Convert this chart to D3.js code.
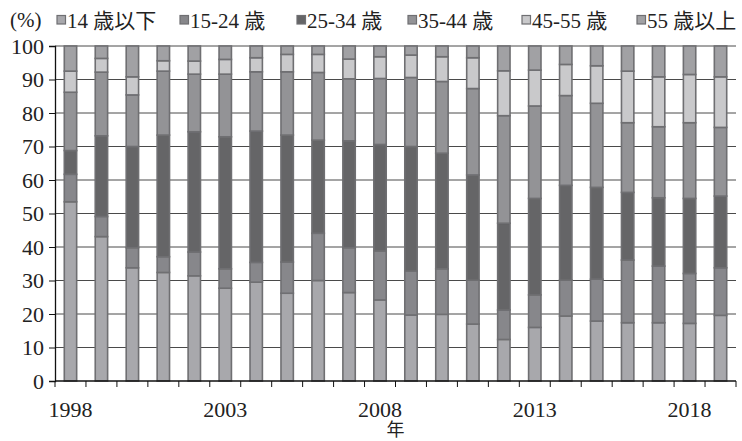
<!DOCTYPE html>
<html>
<head>
<meta charset="utf-8">
<script src="https://cdn.jsdelivr.net/npm/d3@7"></script>
<style>
  html, body { margin: 0; padding: 0; background: #fff; }
  svg text { font-family: "Liberation Serif", "DejaVu Serif", "Noto Sans CJK JP", serif; fill: #222; }
</style>
</head>
<body>
<svg id="chart" width="742" height="441"></svg>
<script>
// Age-group shares (%) by year
const years = [1998, 1999, 2000, 2001, 2002, 2003, 2004, 2005, 2006, 2007, 2008,
               2009, 2010, 2011, 2012, 2013, 2014, 2015, 2016, 2017, 2018, 2019];
const groups = ["14 歳以下", "15-24 歳", "25-34 歳", "35-44 歳", "45-55 歳", "55 歳以上"];
const age14 =  [53.5, 43.1, 33.8, 32.4, 31.4, 27.7, 29.5, 26.2, 30.0, 26.4, 24.2,
                19.7, 19.9, 17.0, 12.4, 16.0, 19.4, 17.9, 17.4, 17.4, 17.2, 19.6];
const age15 =  [8.2, 6.0, 6.0, 4.7, 7.1, 5.8, 5.9, 9.3, 14.1, 13.4, 14.6,
                13.1, 13.6, 13.1, 8.8, 9.7, 10.7, 12.5, 18.7, 16.9, 14.9, 14.2];
const age25 =  [7.1, 24.1, 30.2, 36.3, 35.9, 39.4, 39.2, 37.9, 27.8, 31.9, 31.8,
                37.2, 34.5, 31.4, 25.9, 28.8, 28.3, 27.4, 20.2, 20.4, 22.4, 21.4];
const age35 =  [17.4, 19.0, 15.4, 19.1, 17.2, 18.7, 17.7, 18.9, 20.2, 18.5, 19.7,
                20.6, 21.4, 25.8, 32.1, 27.6, 26.8, 25.1, 20.8, 21.2, 22.6, 20.5];
const age45 =  [6.3, 4.1, 5.4, 3.1, 3.9, 4.4, 4.2, 5.2, 5.4, 5.9, 6.5,
                6.7, 7.4, 9.2, 13.4, 10.7, 9.3, 11.2, 15.4, 14.9, 14.4, 15.1];
const age55 =  [7.5, 3.7, 9.2, 4.4, 4.5, 4.0, 3.5, 2.5, 2.5, 3.9, 3.2,
                2.7, 3.2, 3.5, 7.4, 7.2, 5.5, 5.9, 7.5, 9.2, 8.5, 9.2];
const yTicks = [0, 10, 20, 30, 40, 50, 60, 70, 80, 90, 100];
const labeledYears = [1998, 2003, 2008, 2013, 2018];

const series = [age14, age15, age25, age35, age45, age55];
const colors = ["#a8a8ac", "#87878b", "#656567", "#939396", "#c9c9cb", "#a1a1a4"];

const rows = years.map((yr, i) => {
  const r = { year: yr };
  groups.forEach((g, k) => { r[g] = series[k][i]; });
  return r;
});

const svg = d3.select("#chart");
const plotLeft = 55, plotRight = 736, plotTop = 46, plotBottom = 381;

const x = d3.scaleBand().domain(years).range([plotLeft, plotRight])
  .paddingInner(0.6).paddingOuter(0.3);
const y = d3.scaleLinear().domain([0, 100]).range([plotBottom, plotTop]);

const stacked = d3.stack().keys(groups)(rows);

// horizontal gridlines
svg.append("g").selectAll("line").data(yTicks.filter(d => d > 0)).join("line")
  .attr("x1", plotLeft).attr("x2", plotRight)
  .attr("y1", d => y(d)).attr("y2", d => y(d))
  .attr("stroke", "#4a4a4a").attr("stroke-width", 1);

// stacked bars
svg.append("g").selectAll("g").data(stacked).join("g")
  .attr("fill", (d, i) => colors[i])
  .selectAll("rect").data(d => d).join("rect")
  .attr("x", d => x(d.data.year))
  .attr("width", x.bandwidth())
  .attr("y", d => y(d[1]))
  .attr("height", d => y(d[0]) - y(d[1]))
  .attr("stroke", "#6f6f72").attr("stroke-width", 1.6);

// y axis
const yAxis = svg.append("g").attr("transform", `translate(${plotLeft},0)`)
  .call(d3.axisLeft(y).tickValues(yTicks).tickSize(6).tickPadding(5).tickFormat(d3.format("d")));
yAxis.select(".domain").attr("stroke", "#111").attr("stroke-width", 1.3);
yAxis.selectAll(".tick line").attr("stroke", "#111");
yAxis.selectAll(".tick text").attr("font-size", 22)
  .attr("font-family", "'Liberation Serif', serif").attr("fill", "#222");

// x axis: ticks sit between bars, labels every five years
const step = x.step();
const boundaries = years.map(yr => x(yr) + x.bandwidth() / 2 - step / 2).concat([plotRight]);
const xg = svg.append("g");
xg.append("line").attr("x1", plotLeft).attr("x2", plotRight)
  .attr("y1", plotBottom).attr("y2", plotBottom)
  .attr("stroke", "#111").attr("stroke-width", 1.3);
xg.selectAll("line.tk").data(boundaries).join("line").attr("class", "tk")
  .attr("x1", d => d).attr("x2", d => d)
  .attr("y1", plotBottom).attr("y2", plotBottom + 6)
  .attr("stroke", "#111");
xg.selectAll("text").data(labeledYears).join("text")
  .attr("x", d => x(d) + x.bandwidth() / 2)
  .attr("y", 417)
  .attr("text-anchor", "middle")
  .attr("font-size", 22)
  .text(d => d);

svg.append("text").attr("x", (plotLeft + plotRight) / 2).attr("y", 436)
  .attr("text-anchor", "middle").attr("font-size", 18).text("年");

// unit label
svg.append("text").attr("x", 10).attr("y", 27).attr("font-size", 21).text("(%)");

// legend
const legendX = [57, 180, 297, 408, 522, 637];
const lg = svg.append("g").selectAll("g").data(groups).join("g")
  .attr("transform", (d, i) => `translate(${legendX[i]},0)`);
lg.append("rect").attr("x", 0).attr("y", 15.5).attr("width", 8.5).attr("height", 8.5)
  .attr("fill", (d, i) => colors[i]).attr("stroke", "#6f6f72").attr("stroke-width", 1.2);
lg.append("text").attr("x", 10).attr("y", 28).attr("font-size", 21).text(d => d);
</script>
</body>
</html>
